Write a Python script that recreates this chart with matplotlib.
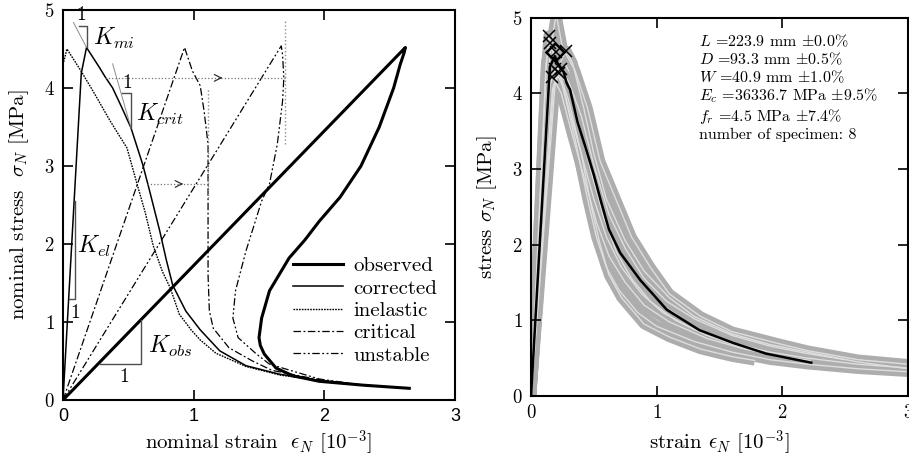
import matplotlib
matplotlib.use("Agg")
import matplotlib.pyplot as plt

plt.rcParams['font.family'] = ['cmr10', 'DejaVu Serif']
plt.rcParams['mathtext.fontset'] = 'cm'
plt.rcParams['axes.unicode_minus'] = False
plt.rcParams['axes.formatter.use_mathtext'] = True

# ---- left panel: nominal stress-strain curves ----
obs_eps = [0, 2.62, 2.61, 2.58, 2.53, 2.42, 2.28, 2.12, 1.96, 1.85, 1.73, 1.58, 1.52, 1.50, 1.51, 1.54, 1.63, 1.76, 1.96, 2.30, 2.65]
obs_sig = [0, 4.52, 4.45, 4.30, 4.00, 3.50, 3.00, 2.60, 2.29, 2.05, 1.82, 1.40, 1.05, 0.80, 0.70, 0.59, 0.41, 0.31, 0.24, 0.19, 0.15]

cor_eps = [0, 0.14, 0.18, 0.23, 0.28, 0.32, 0.38, 0.45, 0.52, 0.61, 0.66, 0.74, 0.79, 0.84, 0.94, 1.05, 1.20, 1.40, 1.66, 1.96, 2.30, 2.65]
cor_sig = [0, 4.19, 4.52, 4.39, 4.26, 4.15, 4.00, 3.75, 3.49, 3.02, 2.70, 2.17, 1.80, 1.47, 1.14, 0.90, 0.63, 0.44, 0.33, 0.25, 0.19, 0.15]

ine_eps = [0.0, 0.03, 0.13, 0.23, 0.36, 0.49, 0.57, 0.63, 0.69, 0.76, 0.82, 0.89, 0.98, 1.05, 1.17, 1.40, 1.66, 1.96, 2.30, 2.65]
ine_sig = [4.30, 4.50, 4.24, 3.96, 3.58, 3.23, 2.75, 2.40, 1.98, 1.65, 1.44, 1.10, 0.90, 0.77, 0.60, 0.43, 0.32, 0.25, 0.19, 0.15]

crit_eps = [0, 0.93, 0.99, 1.05, 1.08, 1.11, 1.11, 1.11, 1.12, 1.15, 1.27, 1.45, 1.60, 1.96, 2.30, 2.65]
crit_sig = [0, 4.52, 4.22, 4.03, 3.70, 3.28, 2.60, 1.60, 1.14, 0.92, 0.67, 0.50, 0.38, 0.26, 0.19, 0.15]

uns_eps = [0, 1.67, 1.68, 1.69, 1.68, 1.64, 1.58, 1.52, 1.40, 1.32, 1.30, 1.34, 1.48, 1.58, 1.96, 2.30, 2.65]
uns_sig = [0, 4.54, 4.43, 4.13, 3.83, 3.28, 2.77, 2.55, 1.91, 1.40, 1.05, 0.80, 0.59, 0.46, 0.27, 0.19, 0.15]

# slope triangles: tangent lines and triangles (x list, y list)
kmi_line = ([0.08, 0.18], [4.84, 4.52])
kmi_tri = ([0.12, 0.18, 0.18], [4.79, 4.79, 4.52])
kcrit_line = ([0.38, 0.52], [4.31, 3.49])
kcrit_tri = ([0.45, 0.52, 0.52], [3.94, 3.94, 3.49])
kel_tri = ([0.046, 0.09, 0.09], [1.29, 1.29, 2.55])
kobs_tri = ([0.28, 0.60, 0.60], [0.46, 0.46, 1.03])

# dotted guide lines with arrows (x list, y list, arrow head x)
arrow_hi = ([0.32, 1.70], [4.13, 4.13], 1.22)
arrow_lo = ([0.64, 1.11], [2.77, 2.77], 0.92)
vline_hi = ([1.70, 1.70], [3.28, 4.86])
vline_lo = ([1.11, 1.11], [2.59, 4.00])

# ---- right panel: specimen curves ----
spec_eps = [
    [0, 0.15, 0.20, 0.25, 0.35, 0.45, 0.55, 0.70, 0.80, 0.95, 1.10, 1.35, 1.60, 2.00, 2.20, 2.60, 3.00, 3.10],
    [0, 0.12, 0.14, 0.20, 0.30, 0.40, 0.48, 0.55, 0.62, 0.72, 0.90, 1.10, 1.35, 1.60, 1.78],
    [0, 0.20, 0.28, 0.33, 0.42, 0.50, 0.60, 0.75, 0.90, 1.10, 1.30, 1.60, 1.90, 2.20, 2.60, 3.00, 3.10],
    [0, 0.15, 0.19, 0.25, 0.35, 0.45, 0.52, 0.60, 0.70, 0.85, 1.00, 1.30, 1.60, 1.90, 2.20, 2.60, 3.00, 3.10],
    [0, 0.13, 0.17, 0.24, 0.32, 0.42, 0.52, 0.62, 0.75, 0.90, 1.10, 1.40, 1.70, 2.00, 2.22],
    [0, 0.12, 0.15, 0.22, 0.30, 0.40, 0.50, 0.60, 0.72, 0.88, 1.05, 1.30, 1.60, 1.90, 2.20, 2.60, 3.00, 3.10],
    [0, 0.17, 0.22, 0.30, 0.38, 0.48, 0.58, 0.68, 0.80, 0.95, 1.15, 1.40, 1.70, 1.85],
    [0, 0.18, 0.24, 0.30, 0.40, 0.50, 0.62, 0.75, 0.90, 1.08, 1.30, 1.60, 1.90, 2.20, 2.50],
]
spec_sig = [
    [0, 4.50, 5.05, 4.60, 4.30, 3.80, 3.10, 2.50, 2.10, 1.70, 1.35, 1.05, 0.85, 0.68, 0.60, 0.48, 0.42, 0.40],
    [0, 4.30, 4.76, 4.40, 3.90, 3.20, 2.50, 2.00, 1.60, 1.30, 0.95, 0.78, 0.62, 0.52, 0.47],
    [0, 4.30, 4.56, 4.40, 3.80, 3.20, 2.60, 2.05, 1.65, 1.30, 1.05, 0.82, 0.68, 0.58, 0.45, 0.36, 0.35],
    [0, 4.10, 4.32, 4.10, 3.40, 2.60, 2.10, 1.70, 1.40, 1.10, 0.92, 0.72, 0.58, 0.48, 0.42, 0.36, 0.32, 0.31],
    [0, 4.00, 4.22, 4.00, 3.50, 2.90, 2.30, 1.85, 1.50, 1.20, 0.98, 0.76, 0.62, 0.52, 0.47],
    [0, 4.40, 4.66, 4.30, 3.80, 3.20, 2.60, 2.10, 1.70, 1.35, 1.10, 0.88, 0.70, 0.58, 0.50, 0.42, 0.37, 0.36],
    [0, 4.05, 4.27, 4.10, 3.60, 2.95, 2.35, 1.90, 1.55, 1.25, 1.00, 0.80, 0.63, 0.57],
    [0, 4.10, 4.32, 4.15, 3.70, 3.05, 2.40, 1.95, 1.55, 1.25, 1.02, 0.80, 0.66, 0.56, 0.48],
]
peak_eps = [0.14, 0.15, 0.20, 0.28, 0.19, 0.17, 0.22, 0.24]
peak_sig = [4.76, 4.66, 4.55, 4.56, 4.32, 4.22, 4.27, 4.32]

mean_eps = [0, 0.15, 0.19, 0.21, 0.26, 0.28, 0.30, 0.31, 0.37, 0.44, 0.50, 0.56, 0.62, 0.71, 0.87, 1.08, 1.34, 1.61, 1.87, 2.23]
mean_sig = [0, 4.35, 4.49, 4.40, 4.28, 4.15, 4.08, 4.05, 3.62, 3.25, 2.92, 2.55, 2.20, 1.89, 1.53, 1.14, 0.87, 0.70, 0.56, 0.44]
mean_peak = (0.19, 4.55)

info_lines = [
    r"$L$ =223.9 mm $\pm$0.0%",
    r"$D$ =93.3 mm $\pm$0.5%",
    r"$W$ =40.9 mm $\pm$1.0%",
    r"$E_c$ =36336.7 MPa $\pm$9.5%",
    r"$f_r$ =4.5 MPa $\pm$7.4%",
    "number of specimen: 8",
]

fig = plt.figure(figsize=(9.09, 4.66), dpi=100)
ax1 = fig.add_axes([0.0693, 0.1416, 0.4313, 0.8369])
ax2 = fig.add_axes([0.5842, 0.1502, 0.4147, 0.8122])

for ax in (ax1, ax2):
    ax.set_xlim(0, 3)
    ax.set_ylim(0, 5)
    ax.set_xticks([0, 1, 2, 3])
    ax.set_yticks([0, 1, 2, 3, 4, 5])
    ax.tick_params(direction='in', length=7, width=1.2, top=True, right=True,
                   labelsize=13.5, pad=6)
    for s in ax.spines.values():
        s.set_linewidth(1.5)

# left panel
ax1.plot(obs_eps, obs_sig, color='k', lw=2.2, label='observed')
ax1.plot(cor_eps, cor_sig, color='k', lw=1.1, label='corrected')
ax1.plot(ine_eps, ine_sig, color='k', lw=1.0, dashes=(1.2, 0.8), label='inelastic')
ax1.plot(crit_eps, crit_sig, color='k', lw=0.9, dashes=(6, 2, 1.5, 2), label='critical')
ax1.plot(uns_eps, uns_sig, color='k', lw=0.9, dashes=(6, 2, 1.5, 2, 1.5, 2), label='unstable')

for line in (kmi_line, kcrit_line):
    ax1.plot(line[0], line[1], color='0.55', lw=0.7)
for tri in (kmi_tri, kcrit_tri, kel_tri, kobs_tri):
    ax1.plot(tri[0], tri[1], color='0.3', lw=1.0)

ax1.text(0.14, 4.93, "1", fontsize=14, ha='center', va='center')
ax1.text(0.23, 4.64, r"$K_{mi}$", fontsize=17, ha='left', va='center')
ax1.text(0.49, 4.06, "1", fontsize=14, ha='center', va='center')
ax1.text(0.56, 3.66, r"$K_{crit}$", fontsize=17, ha='left', va='center')
ax1.text(0.11, 1.97, r"$K_{el}$", fontsize=17, ha='left', va='center')
ax1.text(0.095, 1.12, "1", fontsize=14, ha='center', va='center')
ax1.text(0.65, 0.69, r"$K_{obs}$", fontsize=17, ha='left', va='center')
ax1.text(0.47, 0.30, "1", fontsize=14, ha='center', va='center')

for xs, ys, xa in (arrow_hi, arrow_lo):
    ax1.plot(xs, ys, color='0.45', lw=0.9, ls=':')
    ax1.annotate('', xy=(xa, ys[0]), xytext=(xa - 0.02, ys[0]),
                 arrowprops=dict(arrowstyle='->', color='0.2', lw=0.9, mutation_scale=12))
for vl in (vline_hi, vline_lo):
    ax1.plot(vl[0], vl[1], color='0.55', lw=1.0, ls=':')

ax1.legend(loc='lower right', bbox_to_anchor=(0.965, 0.08), frameon=False,
           fontsize=15, handlelength=2.4, labelspacing=0.18, handletextpad=0.5,
           borderaxespad=0, borderpad=0.2)

ax1.set_xticklabels(["0", "1", "2", "3"], family=['Liberation Sans', 'DejaVu Sans'], fontsize=13)
ax1.set_xlabel(r"nominal strain  $\epsilon_N$ $[10^{-3}]$", fontsize=15, labelpad=2)
ax1.set_ylabel(r"nominal stress  $\sigma_N$ [MPa]", fontsize=15, labelpad=9)

# right panel
for xs, ys in zip(spec_eps, spec_sig):
    ax2.plot(xs, ys, color='#adadad', lw=7.5, solid_capstyle='butt', zorder=1)
for xs, ys in zip(spec_eps, spec_sig):
    ax2.plot(xs, ys, color='#dedede', lw=1.0, zorder=1.5)
ax2.plot(mean_eps, mean_sig, color='k', lw=1.8, zorder=3)
ax2.plot(peak_eps, peak_sig, ls='none', marker='x', ms=9, mew=1.1, color='k', zorder=4)
ax2.plot([mean_peak[0]], [mean_peak[1]], ls='none', marker='D', ms=9, mew=1.8,
         mfc='none', mec='k', zorder=4)

ax2.text(1.34, 4.80, "\n".join(info_lines), fontsize=11.5, ha='left', va='top',
         linespacing=1.12)

ax2.set_xlabel(r"strain $\epsilon_N$ $[10^{-3}]$", fontsize=15, labelpad=4)
ax2.set_ylabel(r"stress $\sigma_N$ [MPa]", fontsize=15, labelpad=9)

fig.savefig("out.png", dpi=100)
